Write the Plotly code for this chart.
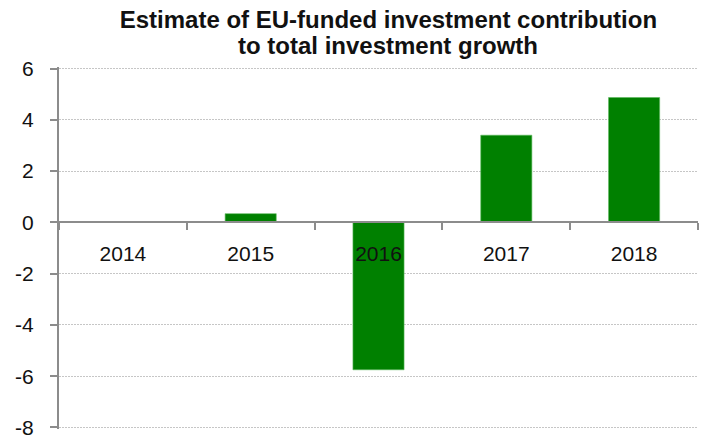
import plotly.graph_objects as go

# Contribution of EU-funded investment to total investment growth (pp)
years = ["2014", "2015", "2016", "2017", "2018"]
contribution = [0.0, 0.34, -5.75, 3.40, 4.87]

y_min, y_max = -8, 6
tick_vals = [-8, -6, -4, -2, 0, 2, 4, 6]
tick_text = [str(v) for v in tick_vals]  # plain hyphen for negatives

title_lines = ["Estimate of EU-funded investment contribution", "to total investment growth"]

fig = go.Figure(
    go.Bar(
        x=years,
        y=contribution,
        marker=dict(color="#008000", line=dict(color="#5cb85c", width=0.6)),
        width=0.4,
    )
)

axis_font = "Liberation Sans, Arial, sans-serif"
title_font = dict(family="Liberation Sans, Arial, sans-serif", size=24, color="#111111")
pad = 0.06

fig.update_layout(
    width=714,
    height=437,
    margin=dict(l=59, r=16, t=67, b=8, autoexpand=False),
    paper_bgcolor="white",
    plot_bgcolor="white",
    showlegend=False,
    title=dict(
        text=f"<b>{title_lines[0]}</b>",
        x=0.544,
        xanchor="center",
        yref="container",
        y=1 - 20 / 437,
        yanchor="middle",
        font=title_font,
    ),
    xaxis=dict(
        type="category",
        anchor="free",
        position=(0 - (y_min - pad)) / (y_max - y_min + 2 * pad),
        automargin=False,
        showline=True,
        linecolor="#8c8c8c",
        linewidth=2,
        ticks="outside",
        tickson="boundaries",
        ticklen=7,
        tickwidth=2,
        tickcolor="#8c8c8c",
        showgrid=False,
        ticklabelstandoff=12,
        tickfont=dict(family=axis_font, size=21, color="#111111"),
        range=[-0.5, 4.5],
    ),
    yaxis=dict(
        range=[y_min - pad, y_max + pad],
        tickvals=tick_vals,
        ticktext=tick_text,
        ticklabeloverflow="allow",
        automargin=False,
        showline=True,
        linecolor="#8c8c8c",
        linewidth=2,
        ticks="outside",
        ticklen=7,
        tickwidth=2,
        tickcolor="#8c8c8c",
        showgrid=True,
        gridcolor="#c6c6c6",
        gridwidth=1,
        griddash="2px,1px",
        zeroline=False,
        ticklabelstandoff=12,
        tickfont=dict(family=axis_font, size=21, color="#111111"),
    ),
    bargap=0.6,
    annotations=[
        dict(
            text=f"<b>{title_lines[1]}</b>",
            xref="paper",
            yref="paper",
            x=0.5 + (0.544 * 714 - 59 - 0.5 * 639) / 639,
            y=1 + (67 - 46) / 362,
            xanchor="center",
            yanchor="middle",
            showarrow=False,
            font=title_font,
        )
    ],
)

fig.write_html("out.html")
